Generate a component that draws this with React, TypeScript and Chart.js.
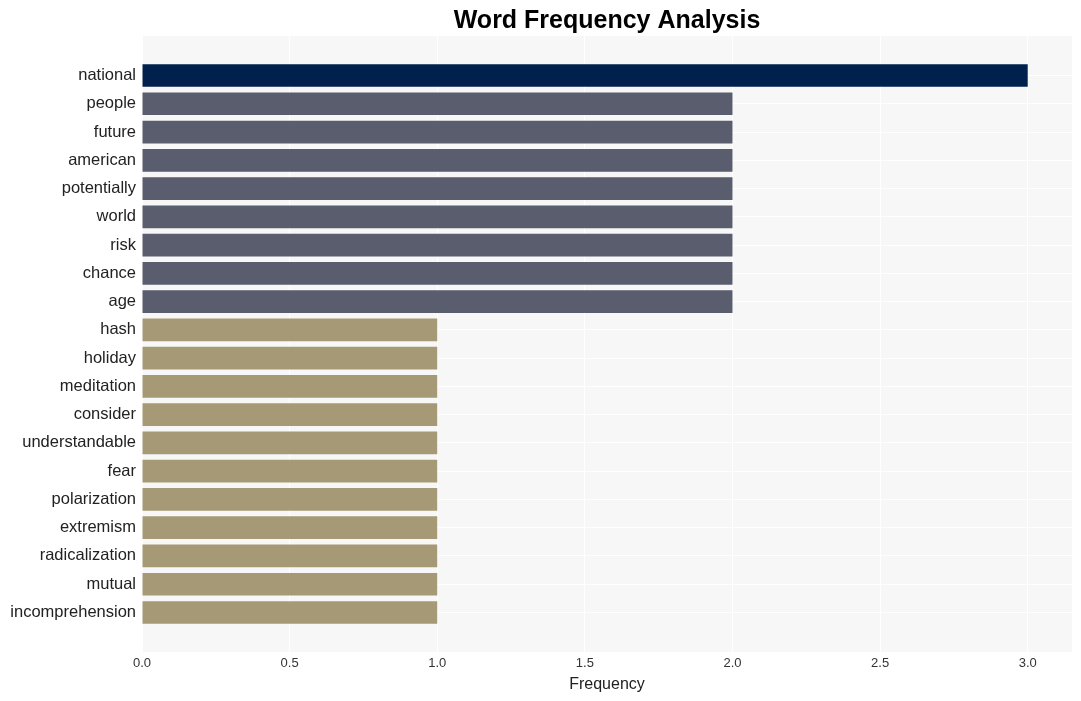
import React, { useEffect, useRef } from "react";
import { Chart, registerables } from "chart.js";

Chart.register(...registerables);

const words = [
  "national", "people", "future", "american", "potentially", "world", "risk", "chance", "age",
  "hash", "holiday", "meditation", "consider", "understandable", "fear", "polarization",
  "extremism", "radicalization", "mutual", "incomprehension",
];
const frequencies = [3, 2, 2, 2, 2, 2, 2, 2, 2, 1, 1, 1, 1, 1, 1, 1, 1, 1, 1, 1];
const barColors = [
  "#00214d",
  "#595d6d", "#595d6d", "#595d6d", "#595d6d", "#595d6d", "#595d6d", "#595d6d", "#595d6d",
  "#a59a75", "#a59a75", "#a59a75", "#a59a75", "#a59a75", "#a59a75", "#a59a75", "#a59a75",
  "#a59a75", "#a59a75", "#a59a75",
];
const xTickValues = [0, 0.5, 1, 1.5, 2, 2.5, 3];
const titleText = "Word Frequency Analysis";
const xAxisTitle = "Frequency";

const FONT = "'Liberation Sans', Arial, sans-serif";

export default function App() {
  const ref = useRef<HTMLCanvasElement>(null);

  useEffect(() => {
    document.body.style.margin = "0";
    const canvas = ref.current;
    if (!canvas) return;

    const bgPlugin = {
      id: "bgPlugin",
      beforeDraw(chart: any) {
        const { ctx, chartArea } = chart;
        ctx.save();
        ctx.fillStyle = "#ffffff";
        ctx.fillRect(0, 0, chart.width, chart.height);
        ctx.fillStyle = "#f7f7f7";
        ctx.fillRect(chartArea.left, chartArea.top, chartArea.right - chartArea.left, chartArea.bottom - chartArea.top);
        ctx.restore();
      },
      afterDraw(chart: any) {
        const { ctx, chartArea } = chart;
        ctx.save();
        ctx.fillStyle = "#000000";
        ctx.font = `bold 25px ${FONT}`;
        ctx.textAlign = "center";
        ctx.textBaseline = "middle";
        ctx.fillText(titleText, (chartArea.left + chartArea.right) / 2, 21);
        ctx.restore();
      },
    };

    const chart = new Chart(canvas, {
      type: "bar",
      data: {
        datasets: [
          {
            data: frequencies.map((v, i) => ({ x: v, y: i })),
            backgroundColor: barColors,
            borderWidth: 0,
            barPercentage: 0.8,
            categoryPercentage: 1,
          },
        ],
      },
      plugins: [bgPlugin],
      options: {
        indexAxis: "y",
        animation: false,
        responsive: false,
        maintainAspectRatio: false,
        layout: { padding: { top: 36, right: 9, bottom: 0, left: 0 } },
        plugins: {
          legend: { display: false },
          title: { display: false },
          tooltip: { enabled: false },
        },
        scales: {
          x: {
            type: "linear",
            min: 0,
            max: 3.15,
            offset: false,
            afterBuildTicks(scale: any) {
              scale.ticks = xTickValues.map((v) => ({ value: v }));
            },
            afterFit(scale: any) {
              scale.height = 49;
            },
            grid: { color: "#ffffff", lineWidth: 1, drawTicks: false, offset: false },
            border: { display: false },
            ticks: {
              padding: 4,
              color: "#333333",
              font: { family: FONT, size: 13 },
              callback: (v: any) => Number(v).toFixed(1),
            },
            title: {
              display: true,
              text: xAxisTitle,
              color: "#222222",
              font: { family: FONT, size: 16 },
              padding: 7,
            },
          },
          y: {
            type: "linear",
            reverse: true,
            min: -1.4,
            max: 20.4,
            offset: false,
            afterBuildTicks(scale: any) {
              scale.ticks = words.map((_, i) => ({ value: i }));
            },
            afterFit(scale: any) {
              scale.width = 142;
            },
            grid: { color: "#ffffff", lineWidth: 1, drawTicks: false, offset: false },
            border: { display: false },
            ticks: {
              padding: 6,
              autoSkip: false,
              color: "#222222",
              font: { family: FONT, size: 16.5 },
              callback: (v: any) => words[Math.round(Number(v))] ?? "",
            },
          },
        },
      },
    } as any);

    return () => chart.destroy();
  }, []);

  return <canvas ref={ref} width={1081} height={701} style={{ display: "block" }} />;
}
